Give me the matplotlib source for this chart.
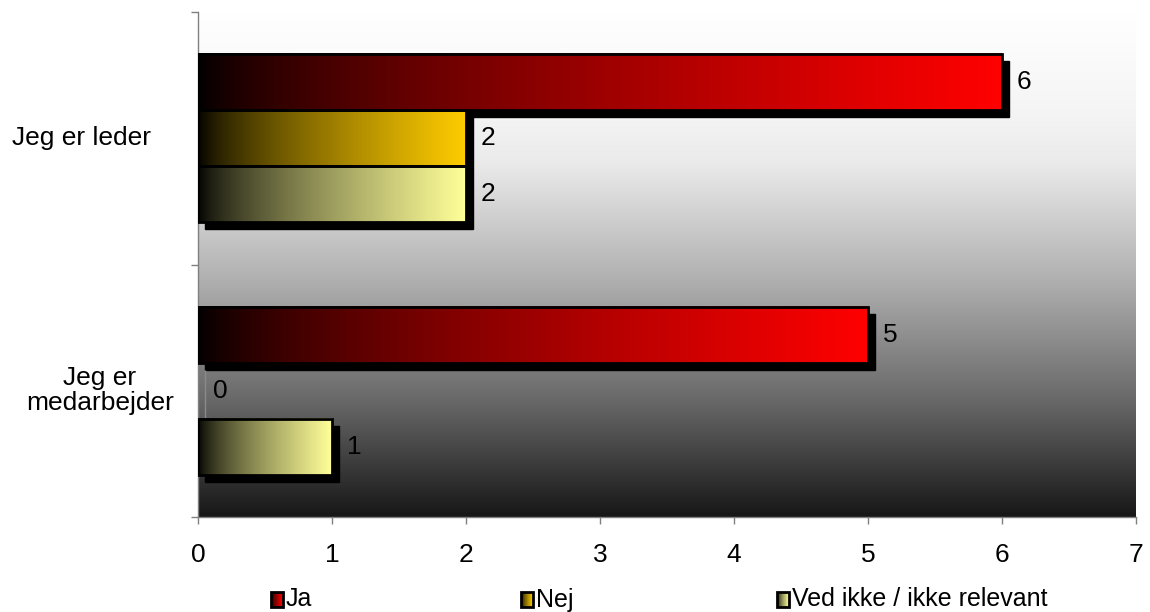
import numpy as np
import matplotlib
matplotlib.use("Agg")
import matplotlib.pyplot as plt
from matplotlib.transforms import ScaledTranslation, blended_transform_factory
from matplotlib.colors import to_rgb

plt.rcParams['font.family'] = ['Liberation Sans', 'DejaVu Sans']

# --- data -------------------------------------------------------------
categories = ["Jeg er leder", "Jeg er\nmedarbejder"]
series = ["Ja", "Nej", "Ved ikke / ikke relevant"]
values = {
    "Ja": [6, 5],
    "Nej": [2, 0],
    "Ved ikke / ikke relevant": [2, 1],
}
end_colors = {"Ja": "#FF0000", "Nej": "#FFCC00", "Ved ikke / ikke relevant": "#FFFF99"}
x_ticks = [0, 1, 2, 3, 4, 5, 6, 7]

FS = 19
W, H, DPI = 1150, 612, 100
fig = plt.figure(figsize=(W / DPI, H / DPI), dpi=DPI)
ax = fig.add_axes([198 / W, 1 - 517 / H, (1136 - 198) / W, (517 - 12) / H])


def ramp(color, n=256):
    """Horizontal gradient from black to the given colour."""
    t = np.linspace(0, 1, n) ** 0.7
    c = np.array(to_rgb(color))
    return (t[:, None] * c[None, :])[None, :, :]


# plot-area background: white at the top fading to near black at the bottom
tt = np.linspace(0, 1, 400)
dark = np.interp(tt, [0, 0.2, 0.3, 0.53, 0.77, 1.0], [0, 0.045, 0.09, 0.34, 0.65, 1.0])
g = 1 - dark * (1 - 0.09)
bg = np.repeat(g[:, None, None], 3, axis=2)
ax.imshow(bg, extent=[0, 1, 0, 1], transform=ax.transAxes, aspect='auto',
          zorder=0, interpolation='bilinear')

h = 0.222
shadow = ax.transData + ScaledTranslation(7 / DPI, -7 / DPI, fig.dpi_scale_trans)
label_off = ax.transData + ScaledTranslation(15 / DPI, 0, fig.dpi_scale_trans)

for si, s in enumerate(series):
    for ci, v in enumerate(values[s]):
        yc = ci + 0.5 + (si - 1) * h
        y0, y1 = yc - h / 2, yc + h / 2
        # drop shadow
        ax.barh(yc, v, height=h, left=0, color='black',
                edgecolor='#8a8a8a' if v == 0 else 'black', linewidth=1,
                transform=shadow, zorder=2)
        if v > 0:
            ax.imshow(ramp(end_colors[s]), extent=[0, v, y1, y0], aspect='auto',
                      zorder=3, interpolation='bilinear')
            ax.barh(yc, v, height=h, left=0, fill=False, edgecolor='black',
                    linewidth=2, zorder=4)
        ax.text(v, yc, f"{v}", transform=label_off, ha='left', va='center',
                fontsize=FS, color='black', zorder=5)

ax.set_xlim(0, 7)
ax.set_ylim(2, 0)
ax.set_xticks(x_ticks)
ax.set_xticklabels([str(t) for t in x_ticks], fontsize=FS)
ax.set_yticks([0, 1, 2])
ax.set_yticklabels([])
ax.tick_params(axis='x', length=5, width=1, color='#808080', pad=14, direction='out')
ax.tick_params(axis='y', length=5, width=1, color='#808080', direction='out')
for side in ('top', 'right'):
    ax.spines[side].set_visible(False)
for side in ('left', 'bottom'):
    ax.spines[side].set_color('#808080')
    ax.spines[side].set_linewidth(1)

# category labels
lab_x = [82, 100]
tr = blended_transform_factory(fig.transFigure, ax.transData)
for ci, cat in enumerate(categories):
    fig.text(lab_x[ci] / W, ci + 0.5, cat, transform=tr, ha='center', va='center',
             multialignment='center', fontsize=FS, linespacing=1.05)

# legend along the bottom
lax = fig.add_axes([0, 0, 1, 1], zorder=10)
lax.axis('off')
leg_x = [271, 521, 777]
for si, s in enumerate(series):
    x0 = leg_x[si]
    lax.imshow(ramp(end_colors[s]), extent=[x0, x0 + 12, 607, 592], aspect='auto',
               interpolation='bilinear')
    lax.add_patch(plt.Rectangle((x0, 592), 12, 15, fill=False, edgecolor='black', lw=2))
    lax.text(x0 + 15, 599.5, s, ha='left', va='center', fontsize=18)
lax.set_xlim(0, W)
lax.set_ylim(H, 0)

fig.savefig("out.png", dpi=DPI, facecolor='white')
